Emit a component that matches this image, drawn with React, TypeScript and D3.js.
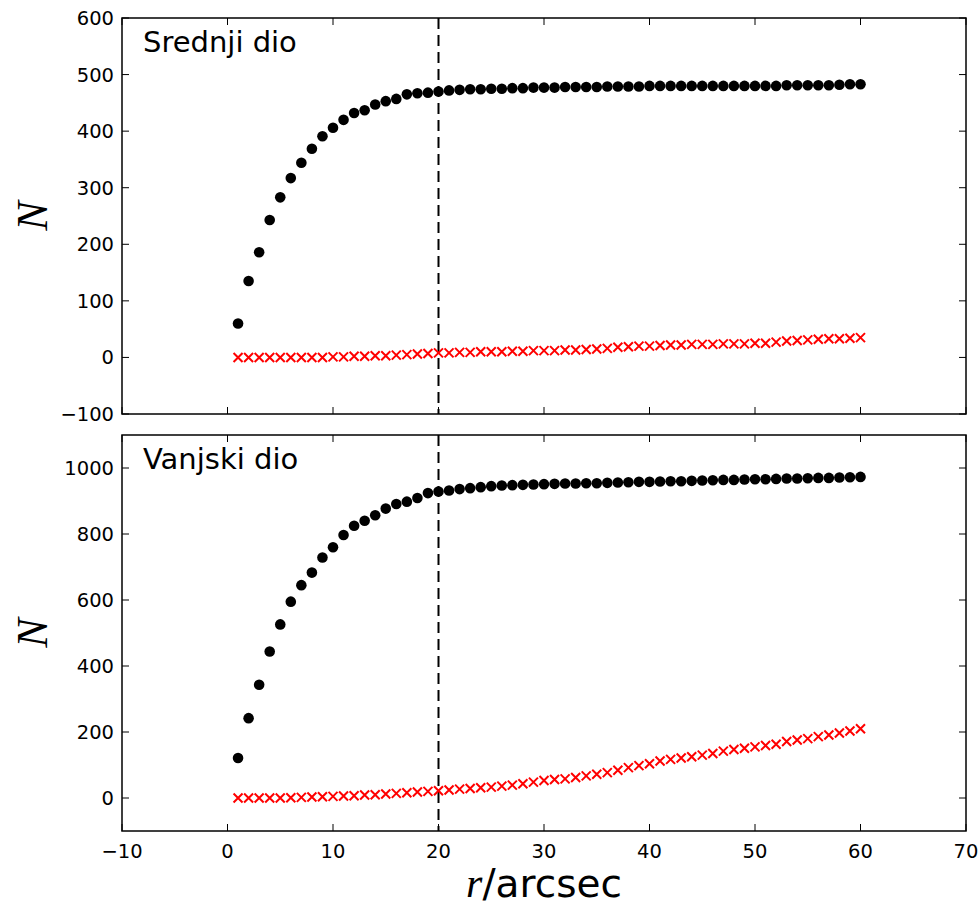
import React from "react";
import * as d3 from "d3";

const radii: number[] = d3.range(1, 61);
const topTotal: number[] = [60,135,186,243,283,317,344,369,391,406,420,432,437,447,453,457,465,467,468,470,472,473,474,474,475,475,476,476,477,477,477,478,478,478,478,479,479,479,479,480,480,480,480,480,480,480,480,480,480,480,480,480,481,481,481,481,481,482,483,483];
const topBg: number[] = [0,0,0,0,0,0,0,0,0,1,1,2,2,3,3,4,5,6,7,8,8,9,9,10,10,10,11,11,12,12,12,13,13,14,15,16,18,19,20,20,21,22,22,23,23,23,24,24,24,25,25,27,29,30,31,32,33,33,34,35];
const botTotal: number[] = [121,242,343,444,526,595,645,683,729,760,797,825,840,857,877,891,898,909,924,929,932,936,939,942,945,947,948,949,950,951,952,953,953,954,954,955,956,957,958,958,959,960,960,961,962,963,964,964,965,966,966,967,968,968,969,970,970,971,972,973];
const botBg: number[] = [0,0,0,0,0,1,2,3,4,5,6,7,9,10,12,14,16,18,20,22,24,27,29,31,33,36,39,43,48,53,56,58,62,67,72,77,84,92,98,104,112,117,121,125,130,135,142,147,151,155,159,163,171,176,180,186,191,197,203,210];
const xTicks: number[] = [-10, 0, 10, 20, 30, 40, 50, 60, 70];
const topYTicks: number[] = [-100, 0, 100, 200, 300, 400, 500, 600];
const botYTicks: number[] = [0, 200, 400, 600, 800, 1000];
const cutoff = 20;

const L = 122, R = 966;
const panels = [
  { title: "Srednji dio", top: 18, bottom: 414, domain: [-100, 600], ticks: topYTicks, total: topTotal, bg: topBg, xLabels: false },
  { title: "Vanjski dio", top: 435, bottom: 831, domain: [-100, 1100], ticks: botYTicks, total: botTotal, bg: botBg, xLabels: true },
];

const font = "'DejaVu Sans', sans-serif";
const mathFont = "'Liberation Serif', 'DejaVu Serif', serif";

export default function App() {
  const x = d3.scaleLinear().domain([-10, 70]).range([L, R]);
  const tl = 7;
  return (
    <svg width={980} height={906} style={{ position: "absolute", left: 0, top: 0, background: "#fff" }}>
      {panels.map((p, pi) => {
        const y = d3.scaleLinear().domain(p.domain).range([p.bottom, p.top]);
        const cy = (p.top + p.bottom) / 2;
        return (
          <g key={pi}>
            <line x1={x(cutoff)} x2={x(cutoff)} y1={p.top} y2={p.bottom} stroke="#000" strokeWidth={2} strokeDasharray="11,6" />
            {p.bg.map((v, i) => {
              const px = x(radii[i]), py = y(v), s = 4.5;
              return (
                <path key={"b" + i} d={`M${px - s},${py - s}L${px + s},${py + s}M${px - s},${py + s}L${px + s},${py - s}`} stroke="#ff0000" strokeWidth={2} fill="none" />
              );
            })}
            {p.total.map((v, i) => (
              <circle key={"t" + i} cx={x(radii[i])} cy={y(v)} r={5.3} fill="#000" />
            ))}
            {xTicks.map((t) => (
              <g key={"xt" + t}>
                <line x1={x(t)} x2={x(t)} y1={p.bottom} y2={p.bottom - tl} stroke="#000" strokeWidth={1} />
                <line x1={x(t)} x2={x(t)} y1={p.top} y2={p.top + tl} stroke="#000" strokeWidth={1} />
                {p.xLabels && (
                  <text x={x(t)} y={p.bottom + 27} textAnchor="middle" fontFamily={font} fontSize={19.5}>
                    {t < 0 ? "\u2212" + Math.abs(t) : t}
                  </text>
                )}
              </g>
            ))}
            {p.ticks.map((t) => (
              <g key={"yt" + t}>
                <line x1={L} x2={L + tl} y1={y(t)} y2={y(t)} stroke="#000" strokeWidth={1} />
                <line x1={R} x2={R - tl} y1={y(t)} y2={y(t)} stroke="#000" strokeWidth={1} />
                <text x={L - 8} y={y(t) + 7} textAnchor="end" fontFamily={font} fontSize={19.5}>
                  {t < 0 ? "\u2212" + Math.abs(t) : t}
                </text>
              </g>
            ))}
            <rect x={L} y={p.top} width={R - L} height={p.bottom - p.top} fill="none" stroke="#000" strokeWidth={1.5} />
            <text x={143} y={p.top + 34} fontFamily={font} fontSize={29}>{p.title}</text>
            <text transform={`translate(47,${cy}) rotate(-90)`} textAnchor="middle" fontFamily={mathFont} fontStyle="italic" fontSize={44}>N</text>
          </g>
        );
      })}
      <text x={(L + R) / 2} y={897} textAnchor="middle" fontFamily={font} fontSize={39}>
        <tspan fontFamily={mathFont} fontStyle="italic" fontSize={42}>r</tspan>/arcsec
      </text>
    </svg>
  );
}
